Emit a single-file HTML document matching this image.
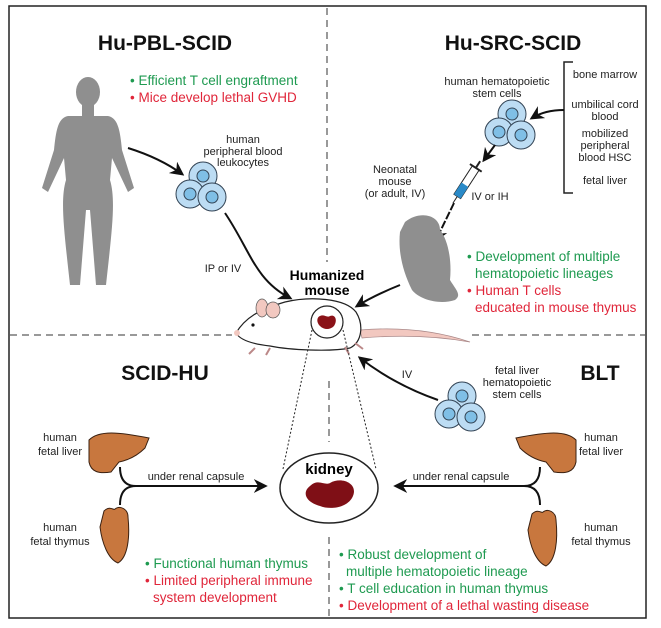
<!DOCTYPE html>
<html><head><meta charset="utf-8"><style>
body{margin:0;background:#fff}
svg{display:block;font-family:"Liberation Sans",sans-serif}
.t{font-size:11px;fill:#222;text-anchor:middle}
.g{fill:#1e9a50;font-size:13.5px}
.r{fill:#e0263a;font-size:13.5px}
.h{font-size:21px;font-weight:bold;text-anchor:middle;fill:#111}
</style></head><body>
<svg width="661" height="628" viewBox="0 0 661 628">
<defs>
<marker id="a" viewBox="0 0 10 10" refX="8" refY="5" markerWidth="7" markerHeight="7" orient="auto"><path d="M0,0 L10,5 L0,10 L3,5z" fill="#111"/></marker>
<g id="cells">
<circle cx="0" cy="-10" r="14" fill="#bcdcf3" stroke="#345" stroke-width="1"/>
<circle cx="0" cy="-10" r="6" fill="#7fbfe6" stroke="#345"/>
<circle cx="-13" cy="8" r="14" fill="#bcdcf3" stroke="#345"/>
<circle cx="-13" cy="8" r="6" fill="#7fbfe6" stroke="#345"/>
<circle cx="9" cy="11" r="14" fill="#bcdcf3" stroke="#345"/>
<circle cx="9" cy="11" r="6" fill="#7fbfe6" stroke="#345"/>
</g>
<path id="liver" d="M0,8 C10,-2 30,0 60,6 L56,16 C48,24 40,28 30,30 L22,40 C10,42 2,40 0,30z" fill="#c8773e" stroke="#3a2010" stroke-width="1"/>
<path id="thy" d="M4,4 C10,-2 14,4 15,2 C20,-2 28,2 28,10 C30,30 28,50 18,56 C8,52 2,36 0,20z" fill="#c8773e" stroke="#3a2010" stroke-width="1"/>
</defs>
<rect x="9" y="6" width="637" height="612" fill="none" stroke="#222" stroke-width="1.5"/>
<line x1="327" y1="8" x2="327" y2="262" stroke="#333" stroke-dasharray="7,5"/>
<line x1="329" y1="381" x2="329" y2="442" stroke="#333" stroke-dasharray="7,5"/>
<line x1="329" y1="537" x2="329" y2="618" stroke="#333" stroke-dasharray="7,5"/>
<line x1="10" y1="335" x2="232" y2="335" stroke="#333" stroke-dasharray="7,5"/>
<line x1="472" y1="335" x2="645" y2="335" stroke="#333" stroke-dasharray="7,5"/>

<text x="165" y="50" class="h">Hu-PBL-SCID</text>
<text x="130" y="85" class="g">• Efficient T cell engraftment</text>
<text x="130" y="102" class="r">• Mice develop lethal GVHD</text>
<g fill="#8f8f8f">
<ellipse cx="88" cy="92" rx="12" ry="15"/>
<rect x="82" y="104" width="12" height="12"/>
<path d="M68,116 L108,116 C118,118 120,130 122,150 L134,188 L128,192 L112,158 L110,180 C116,200 112,230 106,285 L96,285 L90,210 L86,210 L80,285 L70,285 C64,230 60,200 66,180 L64,158 L48,192 L42,188 L54,150 C56,130 58,118 68,116z"/>
</g>
<text class="t" x="243" y="143">human</text>
<text class="t" x="243" y="155">peripheral blood</text>
<text class="t" x="243" y="166">leukocytes</text>
<use href="#cells" x="203" y="186"/>
<path d="M128,148 Q160,158 182,174" fill="none" stroke="#111" stroke-width="2" marker-end="url(#a)"/>
<path d="M225,213 C250,250 255,280 290,298" fill="none" stroke="#111" stroke-width="2" marker-end="url(#a)"/>
<text class="t" x="223" y="272">IP or IV</text>
<text x="327" y="280" style="font-size:14px;font-weight:bold;text-anchor:middle">Humanized</text>
<text x="327" y="295" style="font-size:14px;font-weight:bold;text-anchor:middle">mouse</text>

<text x="513" y="50" class="h">Hu-SRC-SCID</text>
<path d="M573,62 L564,62 L564,193 L573,193" fill="none" stroke="#222" stroke-width="1.5"/>
<text class="t" x="605" y="78">bone marrow</text>
<text class="t" x="605" y="108">umbilical cord</text>
<text class="t" x="605" y="120">blood</text>
<text class="t" x="605" y="137">mobilized</text>
<text class="t" x="605" y="149">peripheral</text>
<text class="t" x="605" y="161">blood HSC</text>
<text class="t" x="605" y="184">fetal liver</text>
<text class="t" x="497" y="85">human hematopoietic</text>
<text class="t" x="497" y="97">stem cells</text>
<use href="#cells" x="512" y="124"/>
<path d="M564,110 Q545,110 532,118" fill="none" stroke="#111" stroke-width="2" marker-end="url(#a)"/>
<path d="M495,145 L484,160" fill="none" stroke="#111" stroke-width="2" marker-end="url(#a)"/>
<g transform="translate(466,183) rotate(33)">
<rect x="-4" y="-18" width="8" height="34" fill="#fff" stroke="#222"/>
<rect x="-4" y="2" width="8" height="14" fill="#2a8ac8"/>
<line x1="-7" y1="-18" x2="7" y2="-18" stroke="#222" stroke-width="2"/>
<line x1="0" y1="-26" x2="0" y2="-18" stroke="#222" stroke-width="2"/>
<line x1="0" y1="16" x2="0" y2="24" stroke="#222"/>
</g>
<path d="M454,203 L436,240" fill="none" stroke="#111" stroke-width="2" stroke-dasharray="8,2" marker-end="url(#a)"/>
<text class="t" x="490" y="200">IV or IH</text>
<text class="t" x="395" y="173">Neonatal</text>
<text class="t" x="395" y="185">mouse</text>
<text class="t" x="395" y="197">(or adult, IV)</text>
<path d="M405,222 C420,210 440,215 440,230 C448,240 452,260 450,280 C456,290 462,295 455,300 C440,305 420,300 412,290 C402,270 398,250 400,232z" fill="#8f8f8f"/>
<path d="M400,285 Q375,295 357,306" fill="none" stroke="#111" stroke-width="2" marker-end="url(#a)"/>
<text x="467" y="261" class="g">• Development of multiple</text>
<text x="475" y="278" class="g">hematopoietic lineages</text>
<text x="467" y="295" class="r">• Human T cells</text>
<text x="475" y="312" class="r">educated in mouse thymus</text>

<path d="M360,330 Q420,325 470,342 Q420,333 362,338z" fill="#f2c8c0" stroke="#a88" stroke-width="0.7"/>
<path d="M236,333 C245,318 258,310 285,302 C310,296 345,298 356,312 C364,325 362,342 350,348 C330,352 290,350 270,346 C252,344 240,340 236,333z" fill="#fff" stroke="#222" stroke-width="1.2"/>
<ellipse cx="262" cy="308" rx="6" ry="9" fill="#f2c8c0" stroke="#555" stroke-width="0.7"/>
<ellipse cx="273" cy="310" rx="7" ry="8" fill="#f2c8c0" stroke="#555" stroke-width="0.7"/>
<circle cx="237" cy="333" r="3" fill="#f2c8c0"/>
<circle cx="253" cy="325" r="1.6" fill="#111"/>
<path d="M255,348 l-6,6 M270,348 l-4,7 M345,347 l4,7 M355,343 l8,6" stroke="#b88" stroke-width="2"/>
<circle cx="327" cy="322" r="16" fill="#fff" stroke="#222" stroke-width="1.2"/>
<path d="M320,316 C324,314 327,318 330,316 C335,314 338,320 334,326 C330,330 324,330 320,326 C316,322 317,317 320,316z" fill="#8a1218"/>
<line x1="312" y1="330" x2="283" y2="469" stroke="#222" stroke-dasharray="2,2"/>
<line x1="343" y1="330" x2="376" y2="469" stroke="#222" stroke-dasharray="2,2"/>

<text x="165" y="380" class="h">SCID-HU</text>
<text x="600" y="380" class="h">BLT</text>
<use href="#cells" x="462" y="406"/>
<text class="t" x="517" y="374">fetal liver</text>
<text class="t" x="517" y="386">hematopoietic</text>
<text class="t" x="517" y="398">stem cells</text>
<path d="M438,400 Q395,385 360,358" fill="none" stroke="#111" stroke-width="2" marker-end="url(#a)"/>
<text class="t" x="407" y="378">IV</text>

<ellipse cx="329" cy="488" rx="49" ry="35" fill="#fff" stroke="#222" stroke-width="1.5"/>
<text x="329" y="474" style="font-size:15px;font-weight:bold;text-anchor:middle">kidney</text>
<path d="M310,486 C318,478 325,486 330,483 C342,476 360,484 352,498 C346,508 330,510 320,506 C305,502 302,492 310,486z" fill="#7f0f16"/>

<use href="#liver" x="89" y="432"/>
<use href="#thy" x="100" y="507"/>
<use href="#liver" x="576" y="432" transform="scale(-1,1) translate(-1152,0)"/>
<use href="#thy" x="528" y="510"/>
<text class="t" x="60" y="441">human</text>
<text class="t" x="60" y="455">fetal liver</text>
<text class="t" x="60" y="531">human</text>
<text class="t" x="60" y="545">fetal thymus</text>
<text class="t" x="601" y="441">human</text>
<text class="t" x="601" y="455">fetal liver</text>
<text class="t" x="601" y="531">human</text>
<text class="t" x="601" y="545">fetal thymus</text>
<path d="M120,467 Q120,486 136,486 Q120,486 120,505" fill="none" stroke="#111" stroke-width="2"/>
<path d="M136,486 L265,486" stroke="#111" stroke-width="2" marker-end="url(#a)"/>
<text class="t" x="196" y="480">under renal capsule</text>
<path d="M540,467 Q540,486 524,486 Q540,486 540,505" fill="none" stroke="#111" stroke-width="2"/>
<path d="M524,486 L396,486" stroke="#111" stroke-width="2" marker-end="url(#a)"/>
<text class="t" x="461" y="480">under renal capsule</text>

<text x="145" y="568" class="g">• Functional human thymus</text>
<text x="145" y="585" class="r">• Limited peripheral immune</text>
<text x="153" y="602" class="r">system development</text>
<text x="339" y="559" class="g">• Robust development of</text>
<text x="346" y="576" class="g">multiple hematopoietic lineage</text>
<text x="339" y="593" class="g">• T cell education in human thymus</text>
<text x="339" y="610" class="r">• Development of a lethal wasting disease</text>
</svg>
</body></html>
